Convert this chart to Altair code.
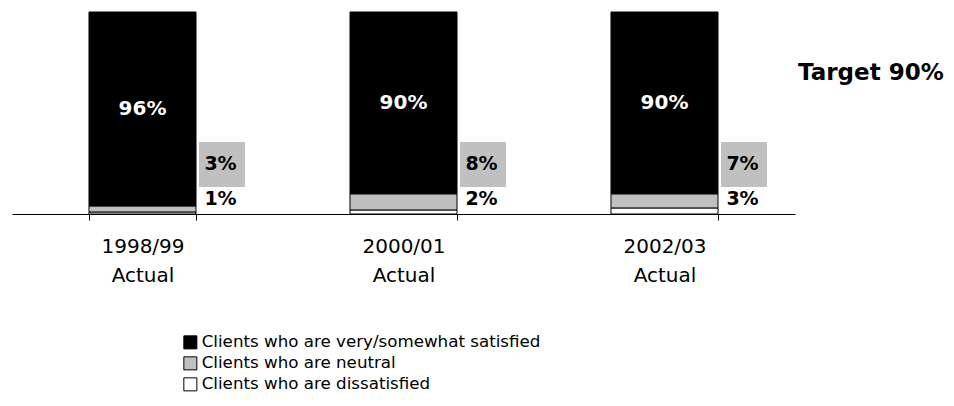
import altair as alt
import pandas as pd

# Survey periods shown along the x axis
periods = ["1998/99", "2000/01", "2002/03"]
period_status = ["Actual", "Actual", "Actual"]

# Share of clients (%) in each satisfaction group
satisfied = [96, 90, 90]
neutral = [3, 8, 7]
dissatisfied = [1, 2, 3]

groups = [
    "Clients who are very/somewhat satisfied",
    "Clients who are neutral",
    "Clients who are dissatisfied",
]
group_colors = ["#000000", "#c0c0c0", "#ffffff"]
target_text = "Target 90%"

# Long table: one row per period and group; rank 0 sits at the bottom of the stack
period_keys = [f"{p}\n{s}" for p, s in zip(periods, period_status)]
rows = []
for i, key in enumerate(period_keys):
    for rank, (g, vals) in enumerate(
        [(groups[2], dissatisfied), (groups[1], neutral), (groups[0], satisfied)]
    ):
        rows.append({"period": key, "group": g, "value": vals[i], "rank": rank})
df = pd.DataFrame(rows)

FONT = "DejaVu Sans"
W, H = 783, 202

x_enc = alt.X(
    "period:N",
    sort=period_keys,
    scale=alt.Scale(paddingInner=0.59, paddingOuter=0.295),
    axis=alt.Axis(
        title=None,
        labelExpr="split(datum.label, '\\n')",
        labelAngle=0,
        labelFont=FONT,
        labelFontSize=20,
        labelColor="black",
        labelLineHeight=29,
        labelPadding=16,
        tickBand="extent",
        tickSize=6,
        tickColor="black",
        domainColor="black",
        grid=False,
    ),
)
y_scale = alt.Scale(domain=[0, 100], nice=False, zero=True)

base = alt.Chart(df)

bars = base.mark_bar(stroke="black", strokeWidth=1).encode(
    x=x_enc,
    y=alt.Y("value:Q", stack="zero", scale=y_scale, axis=None),
    color=alt.Color(
        "group:N",
        scale=alt.Scale(domain=groups, range=group_colors),
        legend=alt.Legend(
            title=None,
            orient="none",
            legendX=170,
            legendY=322,
            symbolType="square",
            symbolSize=170,
            symbolStrokeColor="black",
            symbolStrokeWidth=1,
            symbolOpacity=1,
            labelFont=FONT,
            labelFontSize=16.7,
            labelColor="black",
            labelLimit=0,
            labelOffset=3,
            rowPadding=2,
            padding=0,
        ),
    ),
    order=alt.Order("rank:Q", sort="ascending"),
)

# White value label in the middle of the satisfied segment
inner_labels = (
    base.transform_stack(
        stack="value",
        groupby=["period"],
        as_=["y0", "y1"],
        sort=[alt.SortField("rank", order="ascending")],
    )
    .transform_filter(alt.datum.group == groups[0])
    .transform_calculate(mid="(datum.y0 + datum.y1) / 2", label="datum.value + '%'")
    .mark_text(font=FONT, fontSize=20, fontWeight="bold", color="white", baseline="middle")
    .encode(
        x=alt.X("period:N", sort=period_keys),
        y=alt.Y("mid:Q", scale=y_scale),
        text="label:N",
    )
)

# Grey callout box beside each bar for the neutral share
neutral_box = (
    base.transform_filter(alt.datum.group == groups[1])
    .mark_bar(width=46, xOffset=79.5, color="#c0c0c0")
    .encode(
        x=alt.X("period:N", sort=period_keys),
        y=alt.Y(datum=13.4, scale=y_scale),
        y2=alt.Y2(datum=35.6),
    )
)

neutral_labels = (
    base.transform_filter(alt.datum.group == groups[1])
    .transform_calculate(label="datum.value + '%'")
    .mark_text(font=FONT, fontSize=19, fontWeight="bold", color="black", baseline="middle", dx=78)
    .encode(x=alt.X("period:N", sort=period_keys), y=alt.Y(datum=24.8, scale=y_scale), text="label:N")
)

dissatisfied_labels = (
    base.transform_filter(alt.datum.group == groups[2])
    .transform_calculate(label="datum.value + '%'")
    .mark_text(font=FONT, fontSize=19, fontWeight="bold", color="black", baseline="middle", dx=78)
    .encode(x=alt.X("period:N", sort=period_keys), y=alt.Y(datum=7.4, scale=y_scale), text="label:N")
)

target = (
    alt.Chart(pd.DataFrame({"text": [target_text]}))
    .mark_text(font=FONT, fontSize=23, fontWeight="bold", color="black", align="left", baseline="middle")
    .encode(x=alt.value(786), y=alt.value(61), text="text:N")
)

chart = (
    alt.layer(bars, inner_labels, neutral_box, neutral_labels, dissatisfied_labels, target)
    .properties(
        width=W,
        height=H,
        autosize=alt.AutoSizeParams(type="none"),
        padding={"left": 12, "top": 12, "right": 159, "bottom": 192},
        background="white",
    )
    .configure_view(stroke=None)
)

chart.save("out.html", embed_options={"renderer": "svg", "actions": False})
